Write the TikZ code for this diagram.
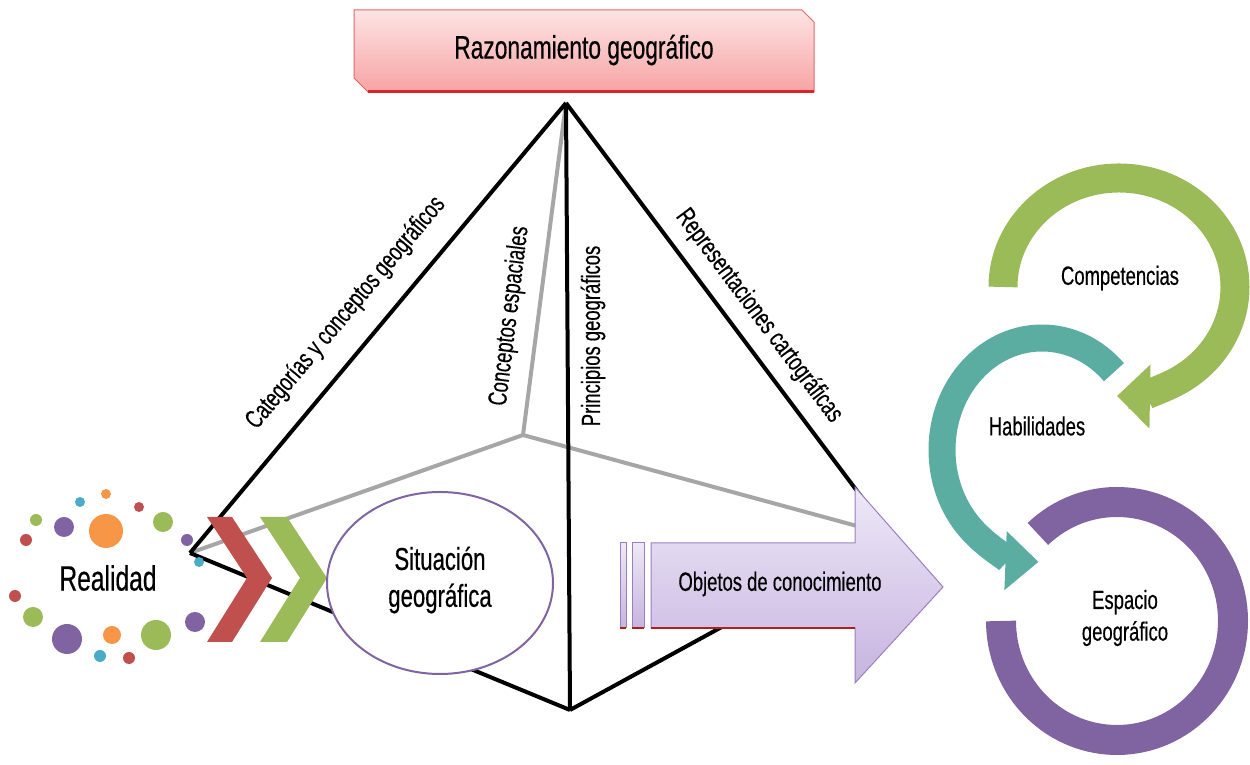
\documentclass[tikz,border=0pt]{standalone}
\usepackage{fontspec}
\setmainfont{Liberation Sans}[FakeStretch=0.70, FakeBold=0.4]
\usetikzlibrary{arrows.meta,shapes.geometric}

\definecolor{rojo}{HTML}{C0504D}
\definecolor{verde}{HTML}{9BBB59}
\definecolor{morado}{HTML}{8064A2}
\definecolor{naranja}{HTML}{F79646}
\definecolor{celeste}{HTML}{4BACC6}
\definecolor{turquesa}{HTML}{5BADA2}
\definecolor{lila}{HTML}{9B7EC0}
\definecolor{lilaclaro}{HTML}{EEE8F7}
\definecolor{lilaoscuro}{HTML}{C6B4E0}
\definecolor{rosaclaro}{HTML}{FDE4E4}
\definecolor{rosaoscuro}{HTML}{F7A3A3}
\definecolor{rojoborde}{HTML}{D9262B}

\tikzset{
  arista/.style={line width=0.8mm, black},
  aristafondo/.style={line width=0.8mm, black!35},
  rotulo/.style={font=\fontsize{15}{15}\selectfont, inner sep=0pt},
  texto/.style={font=\fontsize{15}{18}\selectfont, align=center},
}

\begin{document}
\begin{tikzpicture}[x=0.2mm, y=0.2mm]
\useasboundingbox (0,0) rectangle (1250,765);

% Pyramid corners
\coordinate (apex) at (566,662);
\coordinate (izq) at (190,212);
\coordinate (frente) at (570,55);
\coordinate (der) at (890,230);
\coordinate (fondo) at (523,330);

% Hidden edges (gray)
\draw[aristafondo] (fondo) -- (apex);
\draw[aristafondo] (fondo) -- (izq);
\draw[aristafondo] (fondo) -- (der);

% Front edges (black)
\draw[arista] (apex) -- (izq);
\draw[arista] (apex) -- (frente);
\draw[arista] (apex) -- (der);
\draw[arista] (izq) -- (frente);
\draw[arista] (frente) -- (der);

% Edge labels
\node[rotulo, rotate=50] (categorias) at (346,452) {Categorías y conceptos geográficos};
\node[rotulo, rotate=83] (espaciales) at (510,449) {Conceptos espaciales};
\node[rotulo, rotate=90] (principios) at (593,429) {Principios geográficos};
\node[rotulo, rotate=-53] (representaciones) at (759,449) {Representaciones cartográficas};

% Title box
\shade[top color=rosaclaro, bottom color=rosaoscuro, draw=rojoborde!70, line width=0.2mm]
  (354,755) -- (802,755) -- (814,743) -- (814,673) -- (368,673) -- (354,687) -- cycle;
\draw[rojoborde, line width=0.6mm] (368,673) -- (814,673);
\node[font=\fontsize{18.5}{20}\selectfont] (titulo) at (584,715) {Razonamiento geográfico};

% Dots around Realidad
\foreach \x/\y/\r/\c in {106/271/5/naranja, 80/263/5/celeste, 139/258/5/rojo,
    36/245/6/verde, 64/238/10/morado, 106/234/17/naranja, 163/243/10/verde,
    26/225/6/rojo, 187/225/6/morado, 199/203/5/celeste, 15/169/6/rojo,
    33/148/10/verde, 67/126/15/morado, 112/130/9/naranja, 156/130/15/verde,
    195/143/10/morado, 100/109/6/celeste, 129/107/6/rojo} {
    \fill[\c] (\x,\y) circle[radius=\r];
}
\node[font=\fontsize{20}{20}\selectfont] (realidad) at (108,187) {Realidad};

% Chevrons
\fill[rojo] (207,248) -- (232,248) -- (272,187) -- (232,123) -- (207,123) -- (247,187) -- cycle;
\fill[verde] (260,248) -- (287,248) -- (327,187) -- (287,123) -- (260,123) -- (300,187) -- cycle;

% Situacion geografica
\node[draw=morado, fill=white, line width=0.4mm, ellipse, minimum width=45.2mm, minimum height=36.4mm,
  inner sep=0pt] (situacion) at (440,182) {};
\node[font=\fontsize{18}{21}\selectfont, align=center] (situaciontxt) at (440,185) {Situación\\geográfica};

% Big arrow
\shade[top color=lilaclaro, bottom color=lilaoscuro, draw=lila, line width=0.2mm]
  (651,222) -- (855,222) -- (855,278) -- (943,178) -- (855,82) -- (855,137) -- (651,137) -- cycle;
\shade[top color=lilaclaro, bottom color=lilaoscuro, draw=lila, line width=0.2mm] (620,137) rectangle (626,222);
\shade[top color=lilaclaro, bottom color=lilaoscuro, draw=lila, line width=0.2mm] (632,137) rectangle (644,222);
\draw[rojoborde!80!black, line width=0.4mm] (651,137) -- (855,137);
\draw[rojoborde!80!black, line width=0.4mm] (620,137) -- (626,137);
\draw[rojoborde!80!black, line width=0.4mm] (632,137) -- (644,137);
\node[texto] (objetos) at (780,181) {Objetos de conocimiento};

% Cycle on the right
\draw[line width=5.4mm, turquesa, -{Triangle[width=11.4mm, length=6.6mm]}]
  (1042,315) ++(44:100 and 112) arc[start angle=44, end angle=268, x radius=100, y radius=112];
\draw[line width=6mm, morado]
  (1117,144) ++(133:116 and 119) arc[start angle=133, end angle=-180, x radius=116, y radius=119];
\draw[line width=5.8mm, verde, -{Triangle[width=12.4mm, length=6.6mm]}]
  (1003,478) arc[start angle=180, end angle=-91, x radius=116, y radius=109];

\node[texto] (competencias) at (1120,487) {Competencias};
\node[texto] (habilidades) at (1037,339) {Habilidades};
\node[texto] (espacio) at (1125,147) {Espacio\\geográfico};

\end{tikzpicture}
\end{document}
